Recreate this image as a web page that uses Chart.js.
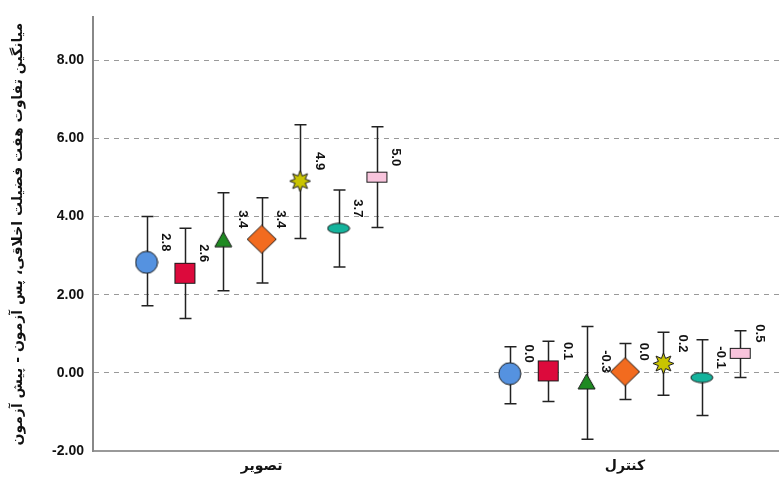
<!DOCTYPE html>
<html>
<head>
<meta charset="utf-8">
<script src="https://cdn.jsdelivr.net/npm/chart.js@4"></script>
<style>
  html, body { margin: 0; padding: 0; background: #fff; }
</style>
</head>
<body>
<canvas id="chart" width="779" height="479"></canvas>
<script>
// ---- data ----
const GROUPS = ["تصویر", "کنترل"];
const Y_TITLE = "میانگین تفاوت هفت فضیلت اخلاقی، پس آزمون - پیش آزمون";
const Y_TICKS = [-2, 0, 2, 4, 6, 8];

// one entry per marker series: [group 1, group 2]
const MEANS = [
  [2.83, -0.02],
  [2.55, 0.05],
  [3.42, -0.22],
  [3.42, 0.03],
  [4.91, 0.24],
  [3.70, -0.12],
  [5.01, 0.50],
];
const LOWER = [
  [1.72, -0.79],
  [1.39, -0.73],
  [2.10, -1.70],
  [2.30, -0.68],
  [3.44, -0.57],
  [2.71, -1.09],
  [3.72, -0.12],
];
const UPPER = [
  [4.00, 0.67],
  [3.70, 0.81],
  [4.61, 1.19],
  [4.48, 0.75],
  [6.35, 1.04],
  [4.68, 0.85],
  [6.30, 1.08],
];
const VALUE_LABELS = [
  ["2.8", "0.0"],
  ["2.6", "0.1"],
  ["3.4", "-0.3"],
  ["3.4", "0.0"],
  ["4.9", "0.2"],
  ["3.7", "-0.1"],
  ["5.0", "0.5"],
];

// ---- marker images ----
function marker(w, h, draw) {
  const c = document.createElement("canvas");
  c.width = w; c.height = h;
  const g = c.getContext("2d");
  g.lineWidth = 1;
  g.strokeStyle = "#1a1a1a";
  draw(g, w, h);
  return c;
}
const MARKERS = [
  marker(24, 24, (g) => { g.fillStyle = "#5592e0"; g.beginPath(); g.arc(12, 12, 11, 0, Math.PI * 2); g.fill(); g.stroke(); }),
  marker(23, 23, (g) => { g.fillStyle = "#dc0a3c"; g.fillRect(1, 1, 21, 21); g.strokeRect(1.5, 1.5, 20, 20); }),
  marker(19, 17, (g) => { g.fillStyle = "#1f8a22"; g.beginPath(); g.moveTo(9.5, 1); g.lineTo(18, 16); g.lineTo(1, 16); g.closePath(); g.fill(); g.stroke(); }),
  marker(31, 30, (g) => { g.fillStyle = "#f26b1f"; g.beginPath(); g.moveTo(15.5, 1); g.lineTo(30, 15); g.lineTo(15.5, 29); g.lineTo(1, 15); g.closePath(); g.fill(); g.stroke(); }),
  marker(23, 23, (g) => {
    g.fillStyle = "#c9c400"; g.beginPath();
    for (let k = 0; k < 16; k++) {
      const r = k % 2 ? 5.5 : 10.5, a = (k * Math.PI) / 8 - Math.PI / 2;
      const px = 11.5 + r * Math.cos(a), py = 11.5 + r * Math.sin(a);
      k ? g.lineTo(px, py) : g.moveTo(px, py);
    }
    g.closePath(); g.fill(); g.stroke();
  }),
  marker(24, 12, (g) => { g.fillStyle = "#14b39c"; g.beginPath(); g.ellipse(12, 6, 11, 5, 0, 0, Math.PI * 2); g.fill(); g.stroke(); }),
  marker(23, 13, (g) => { g.fillStyle = "#f8c4dc"; g.fillRect(1, 1, 21, 11); g.strokeRect(1.5, 1.5, 20, 10); }),
];

const STEP = 0.1057; // horizontal spacing of series inside a group (group units)
const xOf = (s, gi) => gi + (s - 3) * STEP;

const datasets = MEANS.map((m, s) => ({
  data: m.map((v, gi) => ({ x: xOf(s, gi), y: v })),
  pointStyle: MARKERS[s],
  pointRadius: 12,
  showLine: false,
}));

// ---- error bars (drawn under markers) ----
const errorBars = {
  id: "errorBars",
  beforeDatasetsDraw(chart) {
    const { ctx, scales: { x, y } } = chart;
    ctx.save();
    ctx.strokeStyle = "#222";
    ctx.lineWidth = 1.5;
    MEANS.forEach((m, s) => m.forEach((_, gi) => {
      const px = Math.round(x.getPixelForValue(xOf(s, gi))) + 0.5;
      const top = y.getPixelForValue(UPPER[s][gi]);
      const bot = y.getPixelForValue(LOWER[s][gi]);
      ctx.beginPath();
      ctx.moveTo(px, top); ctx.lineTo(px, bot);
      ctx.moveTo(px - 6, top); ctx.lineTo(px + 6, top);
      ctx.moveTo(px - 6, bot); ctx.lineTo(px + 6, bot);
      ctx.stroke();
    }));
    ctx.restore();
  },
};

// ---- rotated value labels ----
const valueLabels = {
  id: "valueLabels",
  afterDatasetsDraw(chart) {
    const { ctx, scales: { x, y } } = chart;
    ctx.save();
    ctx.fillStyle = "#111";
    ctx.font = "bold 13px 'Liberation Sans', Arial, sans-serif";
    ctx.textAlign = "center";
    ctx.textBaseline = "middle";
    MEANS.forEach((m, s) => m.forEach((v, gi) => {
      ctx.save();
      ctx.translate(x.getPixelForValue(xOf(s, gi)) + 19, y.getPixelForValue(v) - 20);
      ctx.rotate(Math.PI / 2);
      ctx.fillText(VALUE_LABELS[s][gi], 0, 0);
      ctx.restore();
    }));
    ctx.restore();
  },
};

new Chart(document.getElementById("chart"), {
  type: "scatter",
  data: { datasets },
  plugins: [errorBars, valueLabels],
  options: {
    responsive: false,
    animation: false,
    layout: { autoPadding: false, padding: { top: 12, right: 0, left: 0, bottom: 0 } },
    plugins: { legend: { display: false }, tooltip: { enabled: false } },
    scales: {
      x: {
        type: "linear",
        min: -0.4644,
        max: 1.4239,
        afterBuildTicks: (sc) => { sc.ticks = [{ value: 0 }, { value: 1 }]; },
        afterFit: (sc) => { sc.height = 28; },
        grid: { display: false, drawTicks: false },
        border: { color: "#999", width: 2 },
        ticks: {
          padding: 7,
          color: "#111",
          font: { family: "'DejaVu Sans'", weight: "bold", size: 14 },
          callback: (v) => GROUPS[v],
        },
      },
      y: {
        min: -2,
        max: 9.1,
        afterBuildTicks: (sc) => { sc.ticks = Y_TICKS.map((v) => ({ value: v })); },
        afterFit: (sc) => { sc.width = 93; },
        grid: {
          drawTicks: false,
          color: (c) => (c.tick && c.tick.value === -2 ? "rgba(0,0,0,0)" : "#999"),
          lineWidth: 1,
        },
        border: { color: "#888", width: 2, dash: [5, 5] },
        ticks: {
          padding: 9,
          color: "#111",
          font: { family: "'Liberation Sans', Arial", weight: "bold", size: 14 },
          callback: (v) => v.toFixed(2),
        },
        title: {
          display: true,
          text: Y_TITLE,
          color: "#111",
          padding: { top: 10, bottom: 0 },
          font: { family: "'DejaVu Sans'", weight: "bold", size: 14 },
        },
      },
    },
  },
});
</script>
</body>
</html>
